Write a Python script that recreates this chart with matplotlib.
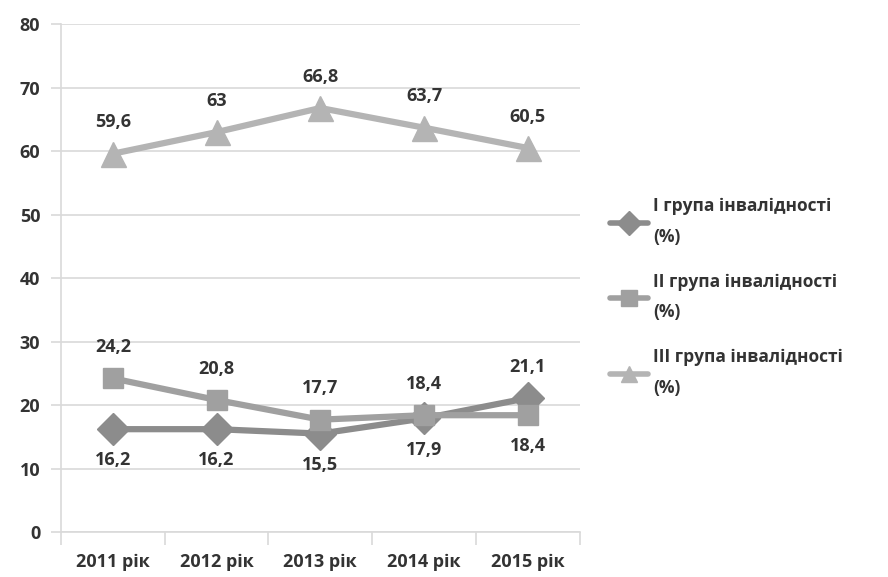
import matplotlib.pyplot as plt
import numpy as np

plt.rcParams['font.family'] = ['Open Sans', 'DejaVu Sans']

years = ['2011 рік', '2012 рік', '2013 рік', '2014 рік', '2015 рік']
group1 = [16.2, 16.2, 15.5, 17.9, 21.1]
group2 = [24.2, 20.8, 17.7, 18.4, 18.4]
group3 = [59.6, 63, 66.8, 63.7, 60.5]
names = ['I група інвалідності\n(%)', 'II група інвалідності\n(%)', 'III група інвалідності\n(%)']

txt = '#333333'
grid_c = '#d9d9d9'
fs = 13

fig = plt.figure(figsize=(8.88, 5.77), dpi=100)
ax = fig.add_axes([0.0687, 0.078, 0.584, 0.880])

x = np.arange(len(years))
styles = [('D', '#8c8c8c', 16), ('s', '#a0a0a0', 15), ('^', '#b4b4b4', 18)]
lines = []
for vals, (mk, col, ms), name in zip([group1, group2, group3], styles, names):
    ln, = ax.plot(x, vals, color=col, lw=4.5, marker=mk, markersize=ms,
                  markeredgecolor=col, label=name, zorder=3, solid_capstyle='round')
    lines.append(ln)

def fmt(v):
    s = ('%.1f' % v).rstrip('0').rstrip('.')
    return s.replace('.', ',')

# data labels: the upper of the two low series goes above, the other below
for i in range(len(years)):
    a, b = group1[i], group2[i]
    hi, lo = (a, b) if a > b else (b, a)
    ax.annotate(fmt(hi), (x[i], hi), xytext=(0, 16), textcoords='offset points',
                ha='center', va='bottom', fontsize=fs, fontweight='bold', color=txt)
    ax.annotate(fmt(lo), (x[i], lo), xytext=(0, -16), textcoords='offset points',
                ha='center', va='top', fontsize=fs, fontweight='bold', color=txt)
    ax.annotate(fmt(group3[i]), (x[i], group3[i]), xytext=(0, 16), textcoords='offset points',
                ha='center', va='bottom', fontsize=fs, fontweight='bold', color=txt)

ax.set_xlim(-0.5, len(years) - 0.5)
ax.set_ylim(0, 80)
ax.set_yticks(range(0, 81, 10))
ax.set_xticks(x)
ax.set_xticklabels(years)
ax.set_xticks(np.arange(-0.5, len(years)), minor=True)
ax.tick_params(axis='x', which='major', length=0, pad=15, labelsize=fs, labelcolor=txt)
ax.tick_params(axis='x', which='minor', length=9, color=grid_c, width=1.2)
ax.tick_params(axis='y', length=7, color=grid_c, width=1.2, pad=8, labelsize=fs, labelcolor=txt)
for lab in ax.get_xticklabels() + ax.get_yticklabels():
    lab.set_fontweight('bold')

ax.grid(axis='y', color=grid_c, lw=1.2)
ax.set_axisbelow(True)
for side in ['top', 'right']:
    ax.spines[side].set_visible(False)
for side in ['left', 'bottom']:
    ax.spines[side].set_color(grid_c)
    ax.spines[side].set_linewidth(1.2)

leg = fig.legend(handles=lines, loc='upper left', bbox_to_anchor=(0.669, 0.685),
                 frameon=False, handlelength=2.2, labelspacing=1.55,
                 handletextpad=0.3, prop={'weight': 'bold', 'size': 12.5})
for t in leg.get_texts():
    t.set_color(txt)
    t.set_linespacing(1.9)
for h in leg.legend_handles:
    h.set_markersize(12)
    h.set_linewidth(4)

fig.savefig('out.png', dpi=100)
